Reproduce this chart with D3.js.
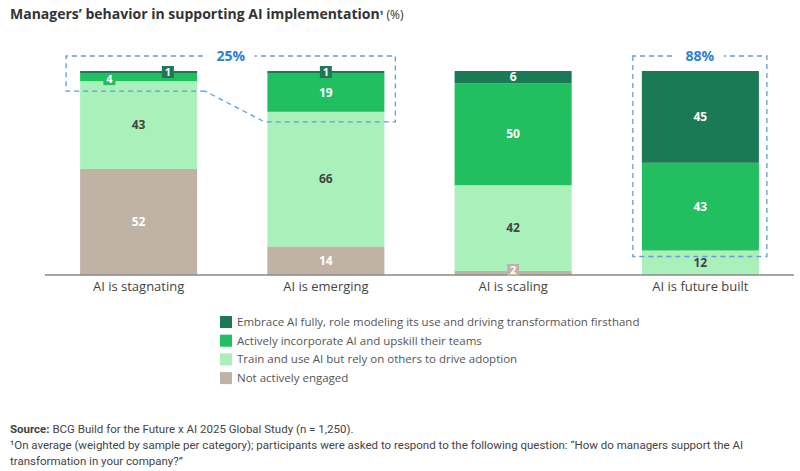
<!DOCTYPE html>
<html>
<head>
    <title></title>
    <style>
        body { margin: 0; background: #fff; }
        svg { font-family: 'Open Sans', 'Noto Sans', sans-serif; }
    </style>
</head>
<body>
<div id="container"></div>

<script src="https://d3js.org/d3.v7.min.js" type="text/javascript"></script>
<script type="text/javascript">
    const categories = ['AI is stagnating', 'AI is emerging', 'AI is scaling', 'AI is future built'];
    const seriesNames = [
        'Not actively engaged',
        'Train and use AI but rely on others to drive adoption',
        'Actively incorporate AI and upskill their teams',
        'Embrace AI fully, role modeling its use and driving transformation firsthand'
    ];
    const notEngaged = [52, 14, 2, 0];
    const trainUse = [43, 66, 42, 12];
    const incorporate = [4, 19, 50, 43];
    const embrace = [1, 1, 6, 45];
    const colors = ['#c0b3a5', '#aaf0bb', '#21bf5f', '#1a7a55'];
    const textColors = ['#fff', '#444', '#fff', '#fff'];
    const highlights = [{ label: '25%', cats: [0, 1] }, { label: '88%', cats: [3] }];

    const w = 800, h = 471;
    const svg = d3.select('#container').append('svg')
        .attr('width', w)
        .attr('height', h);

    const series = [notEngaged, trainUse, incorporate, embrace];

    const x = d3.scaleBand().domain(categories).range([45, 794])
        .paddingInner(0.375).paddingOuter(0.1875);
    const y = d3.scaleLinear().domain([0, 100]).range([275, 71]);

    // title
    const title = svg.append('text').attr('x', 10).attr('y', 19)
        .style('font-size', '14px').style('fill', '#333').style('font-weight', 'bold');
    title.append('tspan').text('Managers’ behavior in supporting AI implementation');
    title.append('tspan').text('¹').style('font-size', '10px');
    title.append('tspan').text(' (%)').style('font-weight', 'normal').style('font-size', '12px');

    // stacked rows
    const rows = categories.map((c, i) => {
        const r = { cat: c };
        series.forEach((s, k) => r[k] = s[i]);
        return r;
    });
    const stack = d3.stack().keys([0, 1, 2, 3])(rows);

    const bars = svg.append('g');
    stack.forEach((layer, k) => {
        bars.selectAll(null).data(layer).enter().append('rect')
            .attr('x', d => x(d.data.cat))
            .attr('width', x.bandwidth())
            .attr('y', d => y(d[1]))
            .attr('height', d => y(d[0]) - y(d[1]))
            .style('fill', colors[k]);
    });

    // axis baseline
    svg.append('g')
        .attr('transform', `translate(0, ${y(0)})`)
        .call(d3.axisBottom(x).tickSize(0).tickPadding(7))
        .call(g => g.select('.domain').attr('d', `M45,0H794`).style('stroke', '#888').style('stroke-width', 1.5))
        .call(g => g.selectAll('.tick text').style('font-size', '13px').style('fill', '#444')
            .style('font-family', "'Open Sans', 'Noto Sans', sans-serif"));

    // value labels
    const labels = svg.append('g').style('font-size', '12px').style('font-weight', 'bold');
    categories.forEach((c, i) => {
        const small = [];
        stack.forEach((layer, k) => {
            const d = layer[i];
            const v = d[1] - d[0];
            if (v <= 0) return;
            if (v < 5) { small.push({ k, d, v }); return; }
            labels.append('text')
                .attr('x', x(c) + x.bandwidth() / 2)
                .attr('y', y((d[0] + d[1]) / 2))
                .attr('dy', '0.35em')
                .attr('text-anchor', 'middle')
                .style('fill', textColors[k])
                .text(v);
        });
        small.forEach((s, j) => {
            let cx = x(c) + x.bandwidth() / 2;
            if (small.length > 1) cx = x(c) + x.bandwidth() * (j === 0 ? 0.25 : 0.75);
            let cy = y((s.d[0] + s.d[1]) / 2);
            if (s.k === 0) cy = y(0) - 5;
            if (small.length > 1 && j === 0) cy += 2;
            const bw = String(s.v).length * 8 + 4;
            labels.append('rect')
                .attr('x', cx - bw / 2).attr('y', cy - 6)
                .attr('width', bw).attr('height', 12)
                .style('fill', colors[s.k]);
            labels.append('text')
                .attr('x', cx).attr('y', cy).attr('dy', '0.36em')
                .attr('text-anchor', 'middle')
                .style('font-size', '11px')
                .style('fill', '#fff')
                .text(s.v);
        });
    });

    // highlight boxes
    const blue = '#5a9fd9';
    const hl = svg.append('g').style('fill', 'none').style('stroke', blue)
        .style('stroke-width', 1.3).style('stroke-dasharray', '5,4');
    const boxTop = y(100) - 15;
    highlights.forEach(hg => {
        const first = hg.cats[0], last = hg.cats[hg.cats.length - 1];
        const multi = hg.cats.length > 1;
        const x0 = x(categories[first]) - (multi ? 14 : 9);
        const x1 = x(categories[last]) + x.bandwidth() + (multi ? 11 : 8);
        let path;
        if (multi) {
            // lower edge follows the share of top two segments per bar
            const b0 = y(100 - incorporate[first] - embrace[first]) + 10;
            const b1 = y(100 - incorporate[last] - embrace[last]) + 10;
            const xa = x(categories[first]) + x.bandwidth() + 8;
            const xb = x(categories[last]) - 3;
            path = `M${xa},${b0}H${x0}V${boxTop}H${x1}V${b1}H${xb}L${xa},${b0}`;
        } else {
            const b = y(100 - incorporate[first] - embrace[first]) + 6;
            path = `M${x0},${boxTop}V${b}H${x1}V${boxTop}Z`;
        }
        hl.append('path').attr('d', path);
        const cx = (x0 + x1) / 2;
        svg.append('rect').attr('x', cx - 24).attr('y', boxTop - 9).attr('width', 48).attr('height', 18)
            .style('fill', '#fff');
        svg.append('text').attr('x', cx).attr('y', boxTop).attr('dy', '0.36em')
            .attr('text-anchor', 'middle')
            .style('font-size', '14px').style('font-weight', 'bold').style('fill', '#2f7fd1')
            .text(hg.label);
    });

    // legend
    const legend = svg.append('g').attr('transform', 'translate(220, 322)');
    [3, 2, 1, 0].forEach((k, i) => {
        const g = legend.append('g').attr('transform', `translate(0, ${i * 18.7})`);
        g.append('rect').attr('x', 0).attr('y', -6).attr('width', 12).attr('height', 12)
            .style('fill', colors[k]);
        g.append('text').attr('x', 17).attr('y', 0).attr('dy', '0.35em')
            .style('font-size', '11.5px').style('fill', '#555')
            .text(seriesNames[k]);
    });

    // footnotes
    const notes = svg.append('g').style('font-family', "'Liberation Sans Narrow', 'Roboto', sans-serif")
        .style('font-size', '11.5px').style('fill', '#444');
    const src = notes.append('text').attr('x', 10).attr('y', 433);
    src.append('tspan').text('Source:').style('font-weight', 'bold');
    src.append('tspan').text(' BCG Build for the Future x AI 2025 Global Study (n = 1,250).');
    notes.append('text').attr('x', 10).attr('y', 449)
        .text('¹On average (weighted by sample per category); participants were asked to respond to the following question: “How do managers support the AI');
    notes.append('text').attr('x', 10).attr('y', 465)
        .text('transformation in your company?”');
</script>
</body>
</html>
